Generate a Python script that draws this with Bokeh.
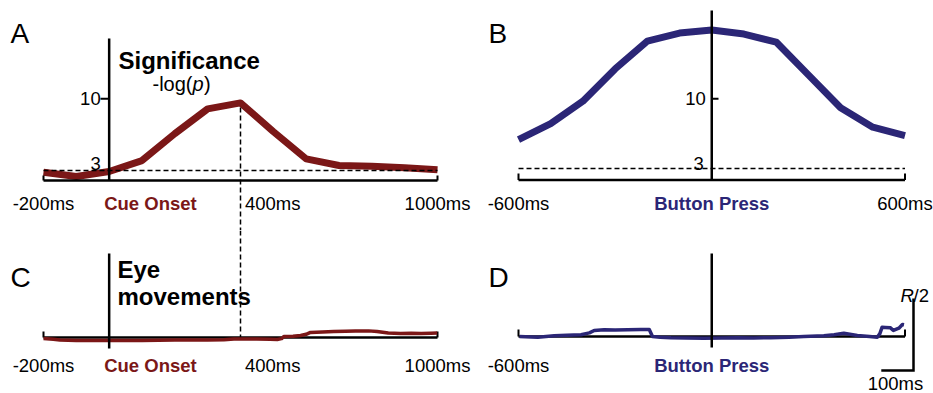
from bokeh.plotting import figure
from bokeh.layouts import column, row
from bokeh.models import Range1d
from bokeh.core.properties import value
from bokeh.embed import file_html
from bokeh.resources import INLINE

# ---------------- data ----------------
A_T = [-200, -100, 0, 100, 200, 300, 400, 500, 600, 700, 800, 900, 1000]
A_SIG = [2.83, 2.41, 2.9, 3.97, 6.6, 9.02, 9.6, 6.8, 4.14, 3.49, 3.42, 3.26, 3.07]

B_T = [-600, -500, -400, -300, -200, -100, 0, 100, 200, 300, 400, 500, 600]
B_SIG = [5.9, 7.5, 9.76, 13.0, 15.8, 16.6, 16.9, 16.5, 15.7, 12.4, 9.1, 7.15, 6.3]

C_T = [-200, -170, -150, -100, -50, 0, 50, 100, 150, 200, 250, 300, 350, 380, 420, 450,
       490, 512, 525, 532, 560, 583, 600, 613, 650, 684, 720, 750, 790, 816, 850, 887,
       920, 950, 980, 999]
C_EYE = [-0.007, -0.012, -0.017, -0.021, -0.02, -0.021, -0.02, -0.021, -0.019, -0.017,
         -0.018, -0.017, -0.015, -0.01, -0.011, -0.01, -0.012, -0.014, -0.008, 0.007,
         0.009, 0.014, 0.022, 0.035, 0.038, 0.042, 0.043, 0.045, 0.046, 0.042, 0.031,
         0.028, 0.029, 0.028, 0.030, 0.031]

D_T = [-597, -560, -540, -489, -450, -406, -380, -365, -334, -300, -261, -220, -194,
       -184, -160, -127, -80, -24, 30, 80, 130, 183, 240, 286, 348, 380, 410, 452, 490,
       514, 522, 529, 539, 555, 564, 581, 592, 597]
D_EYE = [0.0, -0.003, -0.005, 0.005, 0.008, 0.012, 0.025, 0.042, 0.047, 0.046, 0.047,
         0.048, 0.049, 0.0, -0.006, -0.009, -0.01, -0.012, -0.011, -0.009, -0.01, -0.009,
         -0.005, 0.0, 0.005, 0.012, 0.023, 0.007, 0.0, -0.005, 0.02, 0.065, 0.063, 0.06,
         0.042, 0.058, 0.083, 0.081]

THRESH = 3
Y_TICK = 10
A_XTICKS = [-200, 0, 400, 1000]
A_XLABELS = ["-200ms", "Cue Onset", "400ms", "1000ms"]
B_XTICKS = [-600, 0, 600]
B_XLABELS = ["-600ms", "Button Press", "600ms"]
SCALE_MS = 100
SCALE_R = 0.5

RED = "#7b1717"
NAVY = "#2b2676"
FONT = value("Liberation Sans")
LAB = "18.5px"
TITLE = "24px"


class Panel:
    """maps page pixels <-> data for a figure placed at (left, top)"""
    def __init__(self, left, top, w, h, xa, pxa, xb, pxb, ya, pya, yb, pyb):
        self.left, self.top, self.w, self.h = left, top, w, h
        self.xa, self.pxa, self.ya, self.pya = xa, pxa, ya, pya
        self.kx = (pxb - pxa) / (xb - xa)
        self.ky = (pyb - pya) / (yb - ya)

    def X(self, px):
        return self.xa + (px - self.pxa) / self.kx

    def Y(self, py):
        return self.ya + (py - self.pya) / self.ky

    def fig(self):
        p = figure(width=self.w, height=self.h,
                   x_range=Range1d(self.X(self.left), self.X(self.left + self.w)),
                   y_range=Range1d(self.Y(self.top + self.h), self.Y(self.top)),
                   x_axis_type=None, y_axis_type=None, toolbar_location=None,
                   output_backend="svg", min_border=0, outline_line_color=None,
                   background_fill_color="white", border_fill_color="white")
        p.grid.visible = False
        return p


def txt(p, x, y, s, size, style="normal", color="black", align="left",
        baseline="alphabetic", xo=0):
    p.text(x=[x], y=[y], text=[s], text_font=FONT, text_font_size=value(size),
           text_font_style=style, text_color=color, text_align=align,
           text_baseline=baseline, x_offset=xo)


pa = Panel(0, 0, 478, 230, -200, 43, 1000, 437, 3, 170, 10, 98.3)
pb = Panel(478, 0, 455, 230, -600, 518, 600, 904.5, 3, 168, 10, 98.3)
pc = Panel(0, 230, 478, 163, -200, 43, 1000, 437, 0, 337, SCALE_R, 337 - 72)
pd = Panel(478, 230, 455, 163, -600, 518, 600, 904.5, 0, 336, SCALE_R, 336 - 72)

AX_W = 2.5
DASH = "5 3"

# ---------------- Panel A ----------------
A = pa.fig()
baseA = pa.Y(180)
A.line(A_T, A_SIG, line_color=RED, line_width=7, line_join="round")
A.line([A_T[0], A_T[-1]], [THRESH, THRESH], line_color="black", line_width=1.5,
       line_dash=DASH)
peak_i = A_SIG.index(max(A_SIG))
peak_t = A_T[peak_i]
A.line([peak_t, peak_t], [A_SIG[peak_i] - 0.45, pa.Y(230)], line_color="black",
       line_width=1.5, line_dash=DASH)
A.line([A_XTICKS[0], A_XTICKS[-1]], [baseA, baseA], line_color="black", line_width=AX_W)
A.segment(x0=[A_XTICKS[0], A_XTICKS[-1]], y0=[baseA, baseA],
          x1=[A_XTICKS[0], A_XTICKS[-1]], y1=[pa.Y(175), pa.Y(175)],
          line_color="black", line_width=2)
A.line([0, 0], [baseA, pa.Y(38)], line_color="black", line_width=AX_W)
A.line([0, pa.X(100)], [Y_TICK, Y_TICK], line_color="black", line_width=2)
txt(A, 0, Y_TICK, str(Y_TICK), LAB, align="right", baseline="middle", xo=-8.5)
txt(A, 0, pa.Y(163), str(THRESH), LAB, align="right", baseline="middle", xo=-8.5)
labY = pa.Y(203)
txt(A, A_XTICKS[0], labY, A_XLABELS[0], LAB, align="center")
txt(A, A_XTICKS[1], labY, A_XLABELS[1], LAB, style="bold", color=RED, xo=-5)
txt(A, A_XTICKS[2], labY, A_XLABELS[2], LAB, xo=4.5)
txt(A, A_XTICKS[3], labY, A_XLABELS[3], LAB, align="center")
txt(A, pa.X(10), pa.Y(33), "A", "28px")
txt(A, pa.X(118), pa.Y(60), "Significance", TITLE, style="bold")
lx = pa.X(152)
ly = pa.Y(83)
txt(A, lx, ly, "-log(", "20px")
txt(A, lx, ly, "p", "20px", style="italic", xo=40)
txt(A, lx, ly, ")", "20px", xo=51.5)

# ---------------- Panel B ----------------
B = pb.fig()
baseB = pb.Y(179.5)
B.line(B_T, B_SIG, line_color=NAVY, line_width=7, line_join="round")
B.line([B_XTICKS[0], B_XTICKS[-1]], [THRESH, THRESH], line_color="black",
       line_width=1.5, line_dash=DASH)
B.line([B_XTICKS[0], B_XTICKS[-1]], [baseB, baseB], line_color="black", line_width=AX_W)
B.segment(x0=[B_XTICKS[0], B_XTICKS[-1]], y0=[baseB, baseB],
          x1=[B_XTICKS[0], B_XTICKS[-1]], y1=[pb.Y(173), pb.Y(173)],
          line_color="black", line_width=2)
B.line([0, 0], [baseB, pb.Y(10)], line_color="black", line_width=AX_W)
B.line([0, pb.X(718)], [Y_TICK, Y_TICK], line_color="black", line_width=2)
txt(B, 0, Y_TICK, str(Y_TICK), LAB, align="right", baseline="middle", xo=-6)
txt(B, 0, pb.Y(162.5), str(THRESH), LAB, align="right", baseline="middle", xo=-8)
labY = pb.Y(203)
txt(B, B_XTICKS[0], labY, B_XLABELS[0], LAB, align="center")
txt(B, B_XTICKS[1], labY, B_XLABELS[1], LAB, style="bold", color=NAVY, align="center")
txt(B, B_XTICKS[2], labY, B_XLABELS[2], LAB, align="center")
txt(B, pb.X(488), pb.Y(33), "B", "28px")

# ---------------- Panel C ----------------
C = pc.fig()
C.line([peak_t, peak_t], [pc.Y(230), 0], line_color="black", line_width=1.5,
       line_dash=DASH)
C.line([A_XTICKS[0], A_XTICKS[-1]], [0, 0], line_color="black", line_width=AX_W)
C.segment(x0=[A_XTICKS[0], A_XTICKS[-1]], y0=[0, 0],
          x1=[A_XTICKS[0], A_XTICKS[-1]], y1=[pc.Y(331), pc.Y(331)],
          line_color="black", line_width=2)
C.line(C_T, C_EYE, line_color=RED, line_width=3.5, line_join="round")
C.line([0, 0], [pc.Y(348), pc.Y(253)], line_color="black", line_width=AX_W)
labY = pc.Y(365)
txt(C, A_XTICKS[0], labY, A_XLABELS[0], LAB, align="center")
txt(C, A_XTICKS[1], labY, A_XLABELS[1], LAB, style="bold", color=RED, xo=-5)
txt(C, A_XTICKS[2], labY, A_XLABELS[2], LAB, xo=4.5)
txt(C, A_XTICKS[3], labY, A_XLABELS[3], LAB, align="center")
txt(C, pc.X(10), pc.Y(277), "C", "28px")
txt(C, pc.X(117), pc.Y(269), "Eye", TITLE, style="bold")
txt(C, pc.X(117), pc.Y(296), "movements", TITLE, style="bold")

# ---------------- Panel D ----------------
D = pd.fig()
D.line([B_XTICKS[0], B_XTICKS[-1]], [0, 0], line_color="black", line_width=AX_W)
D.segment(x0=[B_XTICKS[0], B_XTICKS[-1]], y0=[0, 0],
          x1=[B_XTICKS[0], B_XTICKS[-1]], y1=[pd.Y(329), pd.Y(329)],
          line_color="black", line_width=2)
D.line(D_T, D_EYE, line_color=NAVY, line_width=3.5, line_join="round")
D.line([0, 0], [pd.Y(347), pd.Y(253)], line_color="black", line_width=AX_W)
labY = pd.Y(365)
txt(D, B_XTICKS[0], labY, B_XLABELS[0], LAB, align="center")
txt(D, B_XTICKS[1], labY, B_XLABELS[1], LAB, style="bold", color=NAVY, align="center")
txt(D, pd.X(488), pd.Y(277), "D", "28px")
# scale bar
cx, cy = pd.X(913), pd.Y(370)
D.line([cx - SCALE_MS, cx, cx], [cy, cy, cy + SCALE_R], line_color="black",
       line_width=2.5, line_join="miter")
txt(D, pd.X(900), pd.Y(295), "R", LAB, style="italic")
txt(D, pd.X(900), pd.Y(295), "/2", LAB, xo=13)
txt(D, cx - SCALE_MS / 2, pd.Y(383), "%dms" % SCALE_MS, LAB, align="center", xo=-2)

layout = column(row(A, B), row(C, D))
open("out.html", "w").write(file_html(layout, INLINE))
